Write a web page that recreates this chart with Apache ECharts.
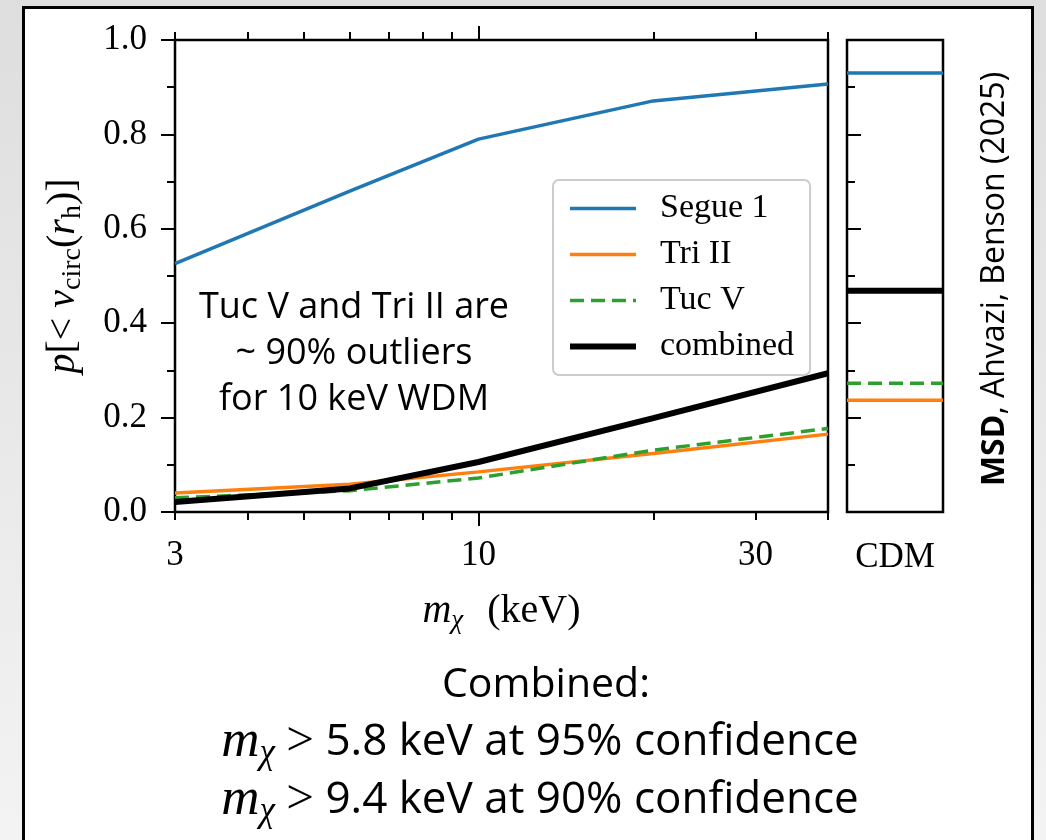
<!DOCTYPE html>
<html>
<head>
<meta charset="utf-8">
<title>p[&lt; v_circ(r_h)] vs m_chi</title>
<script src="https://cdn.jsdelivr.net/npm/echarts@6.0.0/dist/echarts.min.js"></script>
<style>
  html, body { margin: 0; padding: 0; }
  #chart { width: 1046px; height: 840px; }
</style>
</head>
<body>
<div id="chart"></div>
<script>
// WDM particle mass (keV) and probability for each galaxy
var masses = [3, 6, 10, 20, 40]
var segue1 = [0.526, 0.680, 0.790, 0.871, 0.907]
var triII = [0.040, 0.059, 0.085, 0.124, 0.165]
var tucV = [0.030, 0.045, 0.072, 0.131, 0.177]
var combined = [0.021, 0.050, 0.106, 0.199, 0.294]

// CDM panel, same order as seriesNames
var cdmValues = [0.930, 0.237, 0.273, 0.469]

var seriesNames = ['Segue 1', 'Tri II', 'Tuc V', 'combined']
var xMinorTicks = [3, 4, 5, 6, 7, 8, 9, 20, 30, 40]
var xMajorTicks = [10]
var xTickLabels = [3, 10, 30]

var curves = [segue1, triII, tucV, combined]
var colors = ['#1f77b4', '#ff7f0e', '#2ca02c', '#000000']
var widths = [3.5, 3.5, 3.5, 6]
var dashes = ['solid', 'solid', [14, 7], 'solid']

var SERIF = 'Liberation Serif'
var SANS = 'Open Sans'

var chart = echarts.init(document.getElementById('chart'))

var series = []
curves.forEach(function(curve, k) {
  series.push({
    name: seriesNames[k],
    type: 'line',
    xAxisIndex: 0,
    yAxisIndex: 0,
    symbol: 'none',
    z: k === 3 ? 5 : 3,
    lineStyle: { color: colors[k], width: widths[k], type: dashes[k] },
    itemStyle: { color: colors[k] },
    data: masses.map(function(m, i) { return [m, curve[i]] })
  })
  // CDM value as a flat line across the side panel
  series.push({
    name: seriesNames[k],
    type: 'line',
    xAxisIndex: 4,
    yAxisIndex: 1,
    symbol: 'none',
    z: k === 3 ? 5 : 3,
    lineStyle: { color: colors[k], width: widths[k], type: dashes[k] },
    itemStyle: { color: colors[k] },
    data: [[0, cdmValues[k]], [1, cdmValues[k]]]
  })
})

var tickStyle = { color: '#000', width: 2 }

function logAxis(pos, ticks, len, labels) {
  return {
    type: 'log',
    gridIndex: 0,
    position: pos,
    min: 3,
    max: 40,
    axisLine: { show: false },
    splitLine: { show: false },
    axisTick: { show: true, inside: false, customValues: ticks, length: len, lineStyle: tickStyle },
    axisLabel: labels ? {
      show: true,
      customValues: labels,
      margin: 26,
      color: '#000',
      fontFamily: SERIF,
      fontSize: 35
    } : { show: false }
  }
}

var xMain = logAxis('bottom', xMinorTicks, 8, xTickLabels)
xMain.name = '{i|m}{s|χ} (keV)'
xMain.nameLocation = 'middle'
xMain.nameGap = 76
xMain.nameTextStyle = {
  fontFamily: SERIF, fontSize: 40, color: '#000', lineHeight: 46,
  rich: {
    i: { fontFamily: SERIF, fontStyle: 'italic', fontSize: 40, lineHeight: 46 },
    s: { fontFamily: SERIF, fontStyle: 'italic', fontSize: 27, lineHeight: 46, verticalAlign: 'bottom', padding: [0, 14, 0, 0] }
  }
}

var mathRich = {
  m: { fontFamily: SERIF, fontStyle: 'italic', fontSize: 53, lineHeight: 58 },
  c: { fontFamily: SERIF, fontStyle: 'italic', fontSize: 35, lineHeight: 58, verticalAlign: 'bottom' },
  g: { fontFamily: SERIF, fontSize: 49, lineHeight: 58 }
}

chart.setOption({
  animation: false,
  grid: [
    { left: 175, top: 40, width: 653, height: 472, show: true, borderColor: '#000', borderWidth: 2.5, backgroundColor: 'transparent' },
    { left: 847, top: 40, width: 96, height: 472, show: true, borderColor: '#000', borderWidth: 2.5, backgroundColor: 'transparent' }
  ],
  xAxis: [
    xMain,
    logAxis('bottom', xMajorTicks, 14, null),
    logAxis('top', xMinorTicks, 8, null),
    logAxis('top', xMajorTicks, 14, null),
    {
      type: 'value',
      gridIndex: 1,
      min: 0,
      max: 1,
      axisLine: { show: false },
      axisTick: { show: false },
      axisLabel: { show: false },
      splitLine: { show: false },
      name: 'CDM',
      nameLocation: 'middle',
      nameGap: 28,
      nameTextStyle: { fontFamily: SERIF, fontSize: 35, color: '#000' }
    }
  ],
  yAxis: [
    {
      type: 'value',
      gridIndex: 0,
      min: 0,
      max: 1,
      interval: 0.2,
      axisLine: { show: false },
      splitLine: { show: false },
      axisTick: { show: true, inside: false, length: 14, lineStyle: tickStyle },
      minorTick: { show: true, splitNumber: 2, length: 8, lineStyle: tickStyle },
      axisLabel: {
        margin: 28,
        color: '#000',
        fontFamily: SERIF,
        fontSize: 35,
        formatter: function(v) { return v.toFixed(1) }
      },
      name: '{i|p}[< {i|v}{s|circ}({i|r}{s|h})]',
      nameLocation: 'middle',
      nameRotate: 90,
      nameGap: 88,
      nameTextStyle: {
        fontFamily: SERIF, fontSize: 40, color: '#000', lineHeight: 48,
        rich: {
          i: { fontFamily: SERIF, fontStyle: 'italic', fontSize: 40, lineHeight: 48 },
          s: { fontFamily: SERIF, fontSize: 28, lineHeight: 48, verticalAlign: 'bottom' }
        }
      }
    },
    {
      type: 'value',
      gridIndex: 1,
      position: 'right',
      min: 0,
      max: 1,
      interval: 0.2,
      axisLine: { show: false },
      splitLine: { show: false },
      axisTick: { show: true, inside: false, length: 14, lineStyle: tickStyle },
      minorTick: { show: true, splitNumber: 2, length: 8, lineStyle: tickStyle },
      axisLabel: { show: false }
    }
  ],
  legend: {
    data: seriesNames.map(function(n, k) {
      return { name: n, lineStyle: { color: colors[k], width: widths[k], type: dashes[k] } }
    }),
    orient: 'vertical',
    left: 553,
    top: 180,
    itemWidth: 66,
    itemHeight: 20,
    itemGap: 11,
    padding: [11, 16, 11, 14],
    borderColor: '#cccccc',
    borderWidth: 2,
    borderRadius: 6,
    backgroundColor: 'rgba(255,255,255,0.85)',
    itemStyle: { opacity: 0 },
    textStyle: { fontFamily: SERIF, fontSize: 34, lineHeight: 35, color: '#000', padding: [0, 0, 0, 19] }
  },
  graphic: [
    {
      type: 'rect', z: -100, silent: true,
      shape: { x: 0, y: 0, width: 1046, height: 840 },
      style: { fill: new echarts.graphic.LinearGradient(0, 0, 0, 1, [
        { offset: 0, color: '#dedede' }, { offset: 1, color: '#f3f3f3' }
      ]) }
    },
    {
      type: 'rect', z: -99, silent: true,
      shape: { x: 23.5, y: 7.5, width: 1009, height: 860 },
      style: { fill: '#ffffff', stroke: '#000000', lineWidth: 3 }
    },
    {
      type: 'text', x: 354, y: 354, z: 10,
      style: {
        text: 'Tuc V and Tri II are\n~ 90% outliers\nfor 10 keV WDM',
        font: '36px ' + SANS, fill: '#000', align: 'center', verticalAlign: 'middle', lineHeight: 46
      }
    },
    {
      type: 'text', x: 995, y: 279, rotation: Math.PI / 2, z: 10,
      style: {
        text: '{b|MSD}, Ahvazi, Benson (2025)',
        font: '32px ' + SANS, fill: '#000', align: 'center', verticalAlign: 'middle',
        rich: { b: { fontFamily: SANS, fontSize: 32, fontWeight: 'bold' } }
      }
    },
    {
      type: 'text', x: 546, y: 685, z: 10,
      style: { text: 'Combined:', font: '41px ' + SANS, fill: '#000', align: 'center', verticalAlign: 'middle' }
    },
    {
      type: 'text', x: 540, y: 742, z: 10,
      style: {
        text: '{m|m}{c|χ} {g|>} 5.8 keV at 95% confidence',
        font: '44px ' + SANS, fill: '#000', align: 'center', verticalAlign: 'middle', lineHeight: 58,
        rich: mathRich
      }
    },
    {
      type: 'text', x: 540, y: 800, z: 10,
      style: {
        text: '{m|m}{c|χ} {g|>} 9.4 keV at 90% confidence',
        font: '44px ' + SANS, fill: '#000', align: 'center', verticalAlign: 'middle', lineHeight: 58,
        rich: mathRich
      }
    }
  ],
  series: series
})
</script>
</body>
</html>
